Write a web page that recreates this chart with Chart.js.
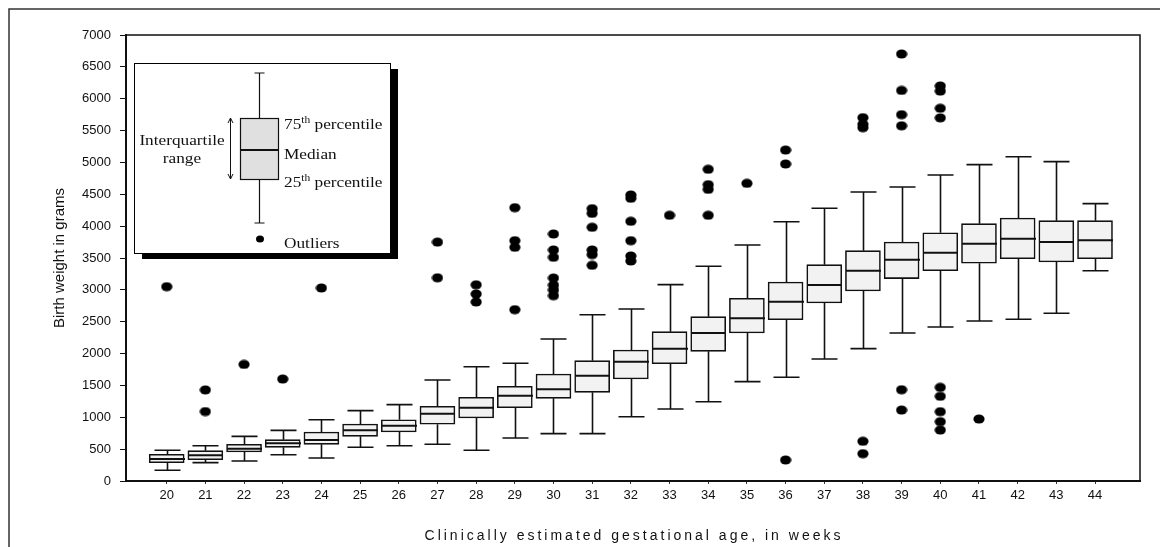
<!DOCTYPE html>
<html>
<head>
<meta charset="utf-8">
<title>Birth weight by gestational age</title>
<script src="https://cdn.jsdelivr.net/npm/chart.js@4.4.1/dist/chart.umd.min.js"></script>
<style>
  html, body { margin: 0; padding: 0; background: #fff; }
  #wrap { width: 1160px; height: 547px; position: relative; }
</style>
</head>
<body>
<div id="wrap"><canvas id="boxChart"></canvas></div>
<script>
// gestational age categories (weeks)
const weeks = [20, 21, 22, 23, 24, 25, 26, 27, 28, 29, 30, 31, 32, 33, 34, 35, 36, 37, 38, 39, 40, 41, 42, 43, 44];

// box plot statistics, grams
const whiskerLow = [168, 288, 314, 413, 361, 529, 554, 576, 482, 675, 743, 743, 1009, 1130, 1245, 1559, 1628, 1915, 2077, 2323, 2417, 2511, 2538, 2632, 3301];
const q1 = [288, 334, 455, 529, 576, 701, 769, 890, 989, 1151, 1298, 1392, 1601, 1841, 2035, 2323, 2532, 2794, 2982, 3176, 3301, 3417, 3489, 3437, 3489];
const median = [345, 403, 507, 592, 644, 795, 868, 1056, 1151, 1339, 1439, 1653, 1873, 2077, 2323, 2553, 2815, 3076, 3301, 3474, 3583, 3725, 3803, 3751, 3778];
const q3 = [419, 476, 576, 649, 769, 895, 962, 1172, 1313, 1486, 1679, 1889, 2056, 2344, 2579, 2867, 3124, 3395, 3615, 3751, 3897, 4039, 4128, 4086, 4086];
const whiskerHigh = [482, 554, 701, 795, 962, 1104, 1198, 1585, 1794, 1847, 2229, 2610, 2700, 3082, 3370, 3704, 4070, 4280, 4536, 4615, 4803, 4965, 5090, 5012, 4353];

// outliers per week
const outliers = [
  [3050],
  [1430, 1090],
  [1830],
  [1600],
  [3030],
  [],
  [],
  [3750, 3190],
  [3080, 2935, 2810],
  [4290, 3772, 3668, 2689],
  [3877, 3626, 3511, 3186, 3076, 2998, 2909],
  [4274, 4201, 3982, 3626, 3553, 3386],
  [4489, 4437, 4076, 3772, 3532, 3453],
  [4170],
  [4892, 4651, 4578, 4170],
  [4672],
  [5195, 4976, 330],
  [],
  [5703, 5600, 5546, 623, 429],
  [6702, 6130, 5750, 5575, 1433, 1114],
  [6200, 6120, 5850, 5700, 1470, 1330, 1088, 931, 800],
  [973],
  [],
  [],
  []
];

const yTicks = [0, 500, 1000, 1500, 2000, 2500, 3000, 3500, 4000, 4500, 5000, 5500, 6000, 6500, 7000];

const SANS = "'Liberation Sans', Arial, sans-serif";
const SERIF = "'Liberation Serif', 'Times New Roman', serif";
const BOX_W = 35;
const CAP_W = 26;

// slightly flattened dot, like the printed figure
const dot = document.createElement("canvas");
dot.width = 12;
dot.height = 10;
(function () {
  const c = dot.getContext("2d");
  c.fillStyle = "#000";
  c.beginPath();
  c.ellipse(6, 5, 5.6, 4.6, 0, 0, Math.PI * 2);
  c.fill();
})();

function stretchedText(ctx, str, x, y, font, sx) {
  ctx.save();
  ctx.font = font;
  ctx.translate(x, y);
  ctx.scale(sx, 1);
  ctx.fillText(str, 0, 0);
  const w = ctx.measureText(str).width * sx;
  ctx.restore();
  return w;
}

// "75" + superscript "th" + " percentile"
function ordinalLabel(ctx, num, rest, x, y) {
  let cx = x;
  cx += stretchedText(ctx, num, cx, y, `15px ${SERIF}`, 1.15);
  cx += stretchedText(ctx, "th", cx, y - 6, `10px ${SERIF}`, 1.15);
  stretchedText(ctx, rest, cx, y, `15px ${SERIF}`, 1.15);
}

const boxPlotPlugin = {
  id: "boxPlot",
  beforeDraw(chart) {
    const ctx = chart.ctx;
    ctx.save();
    ctx.fillStyle = "#fff";
    ctx.fillRect(0, 0, chart.width, chart.height);
    ctx.restore();
  },
  afterDatasetsDraw(chart) {
    const { ctx, scales: { x, y } } = chart;
    ctx.save();
    ctx.strokeStyle = "#111";
    ctx.lineCap = "butt";
    weeks.forEach((w, i) => {
      const px = Math.round(x.getPixelForValue(w)) + 0.5;
      // whiskers
      ctx.lineWidth = 1.6;
      ctx.beginPath();
      ctx.moveTo(px, y.getPixelForValue(q3[i]));
      ctx.lineTo(px, y.getPixelForValue(whiskerHigh[i]));
      ctx.moveTo(px, y.getPixelForValue(q1[i]));
      ctx.lineTo(px, y.getPixelForValue(whiskerLow[i]));
      ctx.moveTo(px - CAP_W / 2, y.getPixelForValue(whiskerHigh[i]));
      ctx.lineTo(px + CAP_W / 2, y.getPixelForValue(whiskerHigh[i]));
      ctx.moveTo(px - CAP_W / 2, y.getPixelForValue(whiskerLow[i]));
      ctx.lineTo(px + CAP_W / 2, y.getPixelForValue(whiskerLow[i]));
      ctx.stroke();
      // median
      ctx.lineWidth = 2;
      ctx.beginPath();
      ctx.moveTo(px - BOX_W / 2, y.getPixelForValue(median[i]));
      ctx.lineTo(px + BOX_W / 2, y.getPixelForValue(median[i]));
      ctx.stroke();
    });
    ctx.restore();
  },
  afterDraw(chart) {
    const { ctx, chartArea: a } = chart;
    ctx.save();

    // outer frame
    ctx.strokeStyle = "#333";
    ctx.lineWidth = 1.5;
    ctx.beginPath();
    ctx.moveTo(9, chart.height);
    ctx.lineTo(9, 9);
    ctx.lineTo(chart.width, 9);
    ctx.stroke();

    // plot frame top and right
    ctx.strokeStyle = "#111";
    ctx.lineWidth = 1.5;
    ctx.beginPath();
    ctx.moveTo(a.left, a.top);
    ctx.lineTo(a.right, a.top);
    ctx.lineTo(a.right, a.bottom);
    ctx.stroke();

    // x axis title, widely spaced
    ctx.fillStyle = "#111";
    ctx.font = `14px ${SANS}`;
    ctx.textAlign = "center";
    ctx.textBaseline = "middle";
    if ("letterSpacing" in ctx) ctx.letterSpacing = "3px";
    ctx.fillText("Clinically estimated gestational age, in weeks", (a.left + a.right) / 2 + 1, 536);
    if ("letterSpacing" in ctx) ctx.letterSpacing = "0px";

    // explanatory key
    const L = 134, T = 63, W = 256, H = 190;
    ctx.fillStyle = "#000";
    ctx.fillRect(L + 8, T + 6, W, H);
    ctx.fillStyle = "#fff";
    ctx.fillRect(L, T, W, H);
    ctx.strokeStyle = "#000";
    ctx.lineWidth = 1;
    ctx.strokeRect(L + 0.5, T + 0.5, W, H);

    const kx = 259.5;
    ctx.strokeStyle = "#111";
    ctx.lineWidth = 1.2;
    ctx.beginPath();
    ctx.moveTo(kx, 73); ctx.lineTo(kx, 118);
    ctx.moveTo(kx - 5, 73); ctx.lineTo(kx + 5, 73);
    ctx.moveTo(kx, 179); ctx.lineTo(kx, 223);
    ctx.moveTo(kx - 5, 223); ctx.lineTo(kx + 5, 223);
    ctx.stroke();
    ctx.fillStyle = "#e0e0e0";
    ctx.fillRect(240, 118, 38, 61);
    ctx.strokeRect(240.5, 118.5, 38, 61);
    ctx.lineWidth = 2;
    ctx.beginPath();
    ctx.moveTo(240, 150); ctx.lineTo(279, 150);
    ctx.stroke();

    // double arrow for the interquartile range
    ctx.lineWidth = 1;
    ctx.beginPath();
    ctx.moveTo(230.5, 118); ctx.lineTo(230.5, 179);
    ctx.moveTo(228, 123); ctx.lineTo(230.5, 118); ctx.lineTo(233, 123);
    ctx.moveTo(228, 174); ctx.lineTo(230.5, 179); ctx.lineTo(233, 174);
    ctx.stroke();

    ctx.fillStyle = "#000";
    ctx.beginPath();
    ctx.ellipse(260, 239, 4, 3.5, 0, 0, Math.PI * 2);
    ctx.fill();

    ctx.fillStyle = "#111";
    ctx.textBaseline = "alphabetic";
    ctx.textAlign = "left";
    const iq = "Interquartile";
    ctx.font = `15px ${SERIF}`;
    const iqW = ctx.measureText(iq).width * 1.15;
    stretchedText(ctx, iq, 182 - iqW / 2, 145, `15px ${SERIF}`, 1.15);
    const rg = "range";
    const rgW = ctx.measureText(rg).width * 1.15;
    stretchedText(ctx, rg, 182 - rgW / 2, 163, `15px ${SERIF}`, 1.15);
    ordinalLabel(ctx, "75", " percentile", 284, 129);
    stretchedText(ctx, "Median", 284, 159, `15px ${SERIF}`, 1.15);
    ordinalLabel(ctx, "25", " percentile", 284, 187);
    stretchedText(ctx, "Outliers", 284, 248, `15px ${SERIF}`, 1.15);

    ctx.restore();
  }
};

const outlierPoints = [];
weeks.forEach((w, i) => outliers[i].forEach((v) => outlierPoints.push({ x: w, y: v })));

const ctx = document.getElementById("boxChart").getContext("2d");
new Chart(ctx, {
  type: "bar",
  data: {
    datasets: [
      {
        label: "Interquartile range",
        data: weeks.map((w, i) => ({ x: w, y: [q1[i], q3[i]] })),
        backgroundColor: "#f2f2f2",
        borderColor: "#111",
        borderWidth: 1.6,
        borderSkipped: false,
        barThickness: BOX_W,
      },
      {
        type: "scatter",
        label: "Outliers",
        data: outlierPoints,
        pointStyle: dot,
        pointRadius: 5,
        backgroundColor: "#000",
        borderColor: "#000",
      },
    ],
  },
  options: {
    responsive: true,
    maintainAspectRatio: false,
    animation: false,
    layout: { padding: { top: 35, right: 20, left: 0, bottom: 0 } },
    plugins: {
      legend: { display: false },
      tooltip: { enabled: false },
    },
    scales: {
      x: {
        type: "linear",
        offset: false,
        min: 18.948,
        max: 45.163,
        afterBuildTicks: (s) => { s.ticks = weeks.map((w) => ({ value: w })); },
        afterFit: (s) => { s.height = 66; },
        grid: { offset: false, drawOnChartArea: false, tickLength: 3, color: "#333", tickWidth: 1 },
        border: { display: true, color: "#111", width: 2 },
        ticks: {
          color: "#111",
          font: { family: SANS, size: 13 },
          padding: 4,
          maxRotation: 0,
          autoSkip: false,
          callback: (v) => String(v),
        },
      },
      y: {
        min: 0,
        max: 7000,
        afterBuildTicks: (s) => { s.ticks = yTicks.map((v) => ({ value: v })); },
        afterFit: (s) => { s.width = 126; },
        grid: { drawOnChartArea: false, tickLength: 6, color: "#111", tickWidth: 1 },
        border: { display: true, color: "#111", width: 2 },
        ticks: {
          color: "#111",
          font: { family: SANS, size: 13 },
          padding: 9,
          callback: (v) => String(v),
        },
        title: {
          display: true,
          text: "Birth weight in grams",
          color: "#111",
          font: { family: SANS, size: 15 },
          padding: { top: 51, bottom: 0 },
        },
      },
    },
  },
  plugins: [boxPlotPlugin],
});
</script>
</body>
</html>
